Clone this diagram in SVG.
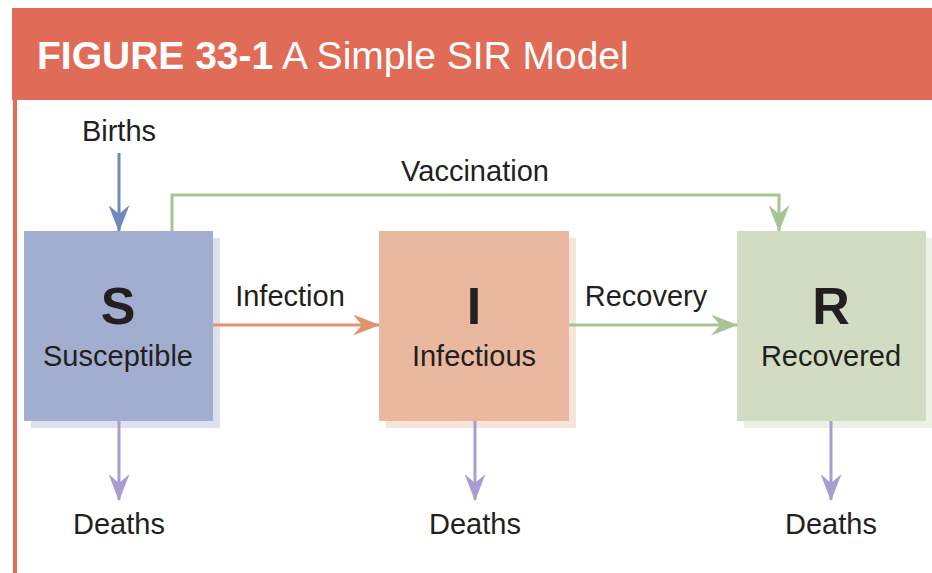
<svg xmlns="http://www.w3.org/2000/svg" width="932" height="573" viewBox="0 0 932 573">
  <style>
    text { font-family: "Liberation Sans", Arial, sans-serif; fill: #231f20; }
    .title { fill: #ffffff; font-size: 39px; }
    .lbl { font-size: 29px; text-anchor: middle; }
    .big { font-size: 52px; font-weight: bold; text-anchor: middle; }
    .flow { fill: none; stroke-width: 3; }
  </style>
  <defs>
    <marker id="headBlue" viewBox="0 0 27 21" refX="26" refY="10.5" markerWidth="27" markerHeight="21" markerUnits="userSpaceOnUse" orient="auto">
      <path d="M0,0 L27,10.5 L0,21 L9,10.5 Z" fill="#7088bb"/>
    </marker>
    <marker id="headGreen" viewBox="0 0 27 21" refX="26" refY="10.5" markerWidth="27" markerHeight="21" markerUnits="userSpaceOnUse" orient="auto">
      <path d="M0,0 L27,10.5 L0,21 L9,10.5 Z" fill="#a9c494"/>
    </marker>
    <marker id="headOrange" viewBox="0 0 27 21" refX="26" refY="10.5" markerWidth="27" markerHeight="21" markerUnits="userSpaceOnUse" orient="auto">
      <path d="M0,0 L27,10.5 L0,21 L9,10.5 Z" fill="#e0946c"/>
    </marker>
    <marker id="headPurple" viewBox="0 0 27 21" refX="26" refY="10.5" markerWidth="27" markerHeight="21" markerUnits="userSpaceOnUse" orient="auto">
      <path d="M0,0 L27,10.5 L0,21 L9,10.5 Z" fill="#a99cd0"/>
    </marker>
  </defs>

  <!-- header band and side rule -->
  <rect x="0" y="0" width="932" height="573" fill="#ffffff"/>
  <rect x="12" y="8" width="920" height="92" fill="#e06c58"/>
  <rect x="13" y="100" width="4" height="473" fill="#e06c58"/>
  <text class="title" x="37" y="69"><tspan font-weight="bold">FIGURE 33-1</tspan> A Simple SIR Model</text>

  <!-- compartments -->
  <g id="node-S">
    <rect x="31" y="238" width="189" height="190" fill="#dde1ef"/>
    <rect x="24" y="231" width="189" height="190" fill="#a1aed0"/>
    <text class="big" x="118" y="324">S</text>
    <text class="lbl" x="118" y="366">Susceptible</text>
  </g>
  <g id="node-I">
    <rect x="386" y="238" width="190" height="190" fill="#f7e5da"/>
    <rect x="379" y="231" width="190" height="190" fill="#e9b89e"/>
    <text class="big" x="474" y="324">I</text>
    <text class="lbl" x="474" y="366">Infectious</text>
  </g>
  <g id="node-R">
    <rect x="744" y="238" width="189" height="190" fill="#ecf0e5"/>
    <rect x="737" y="231" width="189" height="190" fill="#d1dcc2"/>
    <text class="big" x="831" y="324">R</text>
    <text class="lbl" x="831" y="366">Recovered</text>
  </g>

  <!-- connectors -->
  <g id="connectors">
    <line class="flow" x1="119" y1="153" x2="119" y2="231" stroke="#7088bb" marker-end="url(#headBlue)"/>
    <polyline class="flow" points="172,231 172,195 779,195 779,231" stroke="#a9c494" marker-end="url(#headGreen)"/>
    <line class="flow" x1="213" y1="325" x2="379" y2="325" stroke="#e0946c" marker-end="url(#headOrange)"/>
    <line class="flow" x1="569" y1="325" x2="737" y2="325" stroke="#a9c494" marker-end="url(#headGreen)"/>
    <line class="flow" x1="119" y1="421" x2="119" y2="500" stroke="#a99cd0" marker-end="url(#headPurple)"/>
    <line class="flow" x1="475" y1="421" x2="475" y2="500" stroke="#a99cd0" marker-end="url(#headPurple)"/>
    <line class="flow" x1="831" y1="421" x2="831" y2="500" stroke="#a99cd0" marker-end="url(#headPurple)"/>
    <text class="lbl" x="119" y="141">Births</text>
    <text class="lbl" x="475" y="181">Vaccination</text>
    <text class="lbl" x="290" y="306">Infection</text>
    <text class="lbl" x="646" y="306">Recovery</text>
    <text class="lbl" x="119" y="534">Deaths</text>
    <text class="lbl" x="475" y="534">Deaths</text>
    <text class="lbl" x="831" y="534">Deaths</text>
  </g>
</svg>
